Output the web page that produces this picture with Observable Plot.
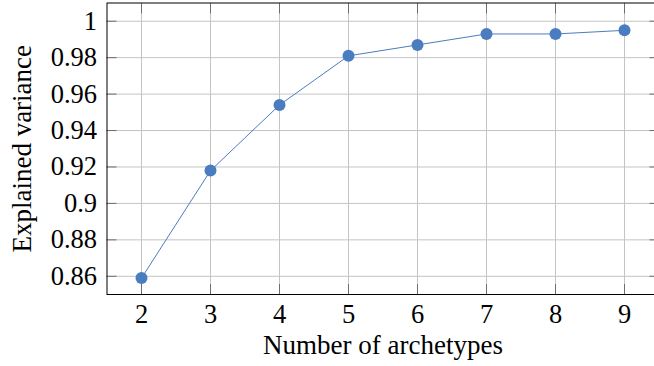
<!DOCTYPE html>
<html>
<head>
<meta charset="utf-8">
<script src="https://cdn.jsdelivr.net/npm/d3@7"></script>
<script src="https://cdn.jsdelivr.net/npm/@observablehq/plot@0.6"></script>
<style>
  html, body { margin: 0; padding: 0; background: #fff; overflow: hidden; }
  #chart svg { display: block; }
  #chart svg [aria-label$="axis label"] text { font-size: 27px; }
</style>
</head>
<body>
<div id="chart"></div>
<script>
const archetypes = [2, 3, 4, 5, 6, 7, 8, 9];
const explainedVariance = [0.859, 0.918, 0.954, 0.981, 0.987, 0.993, 0.993, 0.995];
const xTicks = [2, 3, 4, 5, 6, 7, 8, 9];
const yTicks = [0.86, 0.88, 0.9, 0.92, 0.94, 0.96, 0.98, 1];
const xLabel = "Number of archetypes";
const yLabel = "Explained variance";

const data = archetypes.map((k, i) => ({k, v: explainedVariance[i]}));
const fmt = d => String(+d.toFixed(2));
const blue = "#4a7dbf";
const font = "Liberation Serif, Times New Roman, serif";

const chart = Plot.plot({
  width: 654,
  height: 366,
  marginLeft: 106.5,
  marginRight: -4.5,
  marginTop: 2.5,
  marginBottom: 72,
  style: {fontFamily: font, fontSize: "26.5px", color: "#000", background: "#fff"},
  x: {domain: [1.5, 9.5]},
  y: {domain: [0.85, 1.01]},
  marks: [
    Plot.gridX(xTicks, {stroke: "#c4c4c4", strokeOpacity: 1}),
    Plot.gridY(yTicks, {stroke: "#c4c4c4", strokeOpacity: 1}),
    Plot.axisX(xTicks, {anchor: "bottom", tickSize: -10, stroke: "#6e6e6e", tickFormat: () => "", label: null}),
    Plot.axisX(xTicks, {anchor: "top", tickSize: -10, stroke: "#6e6e6e", tickFormat: () => "", label: null}),
    Plot.axisY(yTicks, {anchor: "left", tickSize: -10, stroke: "#6e6e6e", tickFormat: () => "", label: null}),
    Plot.axisY(yTicks, {anchor: "right", tickSize: -10, stroke: "#6e6e6e", tickFormat: () => "", label: null}),
    Plot.axisX(xTicks, {anchor: "bottom", tickSize: 0, tickPadding: 10, tickFormat: fmt, fontSize: 26.5,
      label: xLabel, labelAnchor: "center", labelArrow: "none", labelOffset: 59}),
    Plot.axisY(yTicks, {anchor: "left", tickSize: 0, tickPadding: 10, tickFormat: fmt, fontSize: 26.5,
      label: yLabel, labelAnchor: "center", labelArrow: "none", labelOffset: 95}),
    Plot.frame({stroke: "#000", strokeWidth: 1}),
    Plot.line(data, {x: "k", y: "v", stroke: blue, strokeWidth: 1}),
    Plot.dot(data, {x: "k", y: "v", r: 6, fill: blue, stroke: "none"})
  ]
});
document.getElementById("chart").appendChild(chart);
</script>
</body>
</html>
